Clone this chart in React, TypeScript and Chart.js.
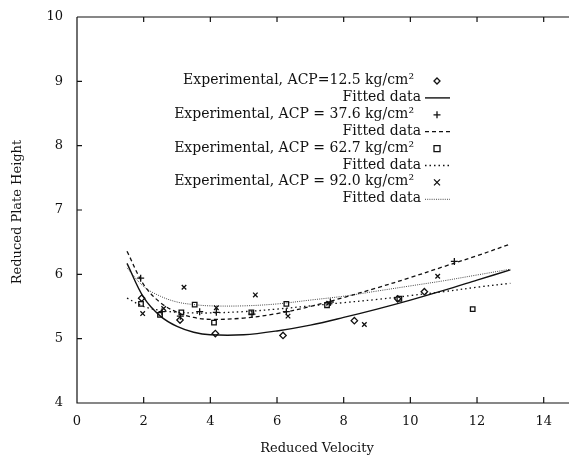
import React, { useEffect, useRef } from 'react';
import { Chart, registerables } from 'chart.js';

Chart.register(...registerables);

// ---- data ----
const xTicks = [0, 2, 4, 6, 8, 10, 12, 14];
const yTicks = [4, 5, 6, 7, 8, 9, 10];

const diamondX = [1.94, 3.09, 4.15, 6.18, 8.32, 9.62, 10.42];
const diamondY = [5.63, 5.29, 5.08, 5.05, 5.28, 5.62, 5.73];

const plusX = [1.91, 2.55, 3.1, 3.68, 4.18, 5.25, 6.28, 7.6, 11.32];
const plusY = [5.94, 5.42, 5.35, 5.42, 5.41, 5.38, 5.42, 5.57, 6.2];

const squareX = [1.92, 2.49, 3.13, 3.53, 4.11, 5.23, 6.28, 7.5, 9.67, 11.87];
const squareY = [5.54, 5.37, 5.41, 5.53, 5.25, 5.41, 5.54, 5.52, 5.62, 5.46];

const crossX = [1.97, 2.6, 3.21, 4.18, 5.35, 6.33, 7.55, 8.62, 10.82];
const crossY = [5.39, 5.47, 5.8, 5.48, 5.68, 5.35, 5.55, 5.22, 5.97];

const fitX = [1.5, 2, 2.5, 3, 3.5, 4, 5, 6, 7, 8, 9, 10, 11, 12, 13];
const fit125 = [6.17, 5.64, 5.35, 5.19, 5.1, 5.06, 5.06, 5.12, 5.21, 5.33, 5.46, 5.6, 5.75, 5.91, 6.07];
const fit376 = [6.36, 5.84, 5.56, 5.41, 5.33, 5.3, 5.32, 5.39, 5.5, 5.64, 5.79, 5.95, 6.12, 6.29, 6.47];
const fit627 = [5.63, 5.5, 5.44, 5.41, 5.4, 5.4, 5.42, 5.46, 5.51, 5.56, 5.61, 5.67, 5.73, 5.8, 5.86];
const fit920 = [6.1, 5.81, 5.66, 5.57, 5.53, 5.51, 5.51, 5.54, 5.6, 5.66, 5.74, 5.82, 5.9, 5.99, 6.08];

const legendLabels = [
  'Experimental, ACP=12.5 kg/cm²',
  'Fitted data',
  'Experimental, ACP = 37.6 kg/cm²',
  'Fitted data',
  'Experimental, ACP = 62.7 kg/cm²',
  'Fitted data',
  'Experimental, ACP = 92.0 kg/cm²',
  'Fitted data',
];

const xTitle = 'Reduced Velocity';
const yTitle = 'Reduced Plate Height';

// ---- styles ----
const INK = '#111';
const FONT = '"DejaVu Serif", serif';
const lineStyles = [
  { dash: [] as number[], width: 1.4, color: '#111' },
  { dash: [4, 3], width: 1.3, color: '#111' },
  { dash: [1.5, 3], width: 1.3, color: '#111' },
  { dash: [1, 1.2], width: 0.9, color: '#333' },
];
const markerStyles = ['rectRot', 'cross', 'rect', 'crossRot'];

function pts(xs: number[], ys: number[]) {
  return xs.map((x, i) => ({ x, y: ys[i] }));
}

function drawMarker(ctx: CanvasRenderingContext2D, kind: string, x: number, y: number) {
  ctx.save();
  ctx.setLineDash([]);
  ctx.strokeStyle = INK;
  ctx.lineWidth = 1.3;
  ctx.beginPath();
  if (kind === 'rectRot') {
    const r = 3;
    ctx.moveTo(x, y - r); ctx.lineTo(x + r, y); ctx.lineTo(x, y + r); ctx.lineTo(x - r, y); ctx.closePath();
  } else if (kind === 'cross') {
    const r = 3.5;
    ctx.moveTo(x - r, y); ctx.lineTo(x + r, y); ctx.moveTo(x, y - r); ctx.lineTo(x, y + r);
  } else if (kind === 'rect') {
    const r = 3;
    ctx.rect(x - r, y - r, 2 * r, 2 * r);
  } else {
    const r = 3;
    ctx.moveTo(x - r, y - r); ctx.lineTo(x + r, y + r); ctx.moveTo(x + r, y - r); ctx.lineTo(x - r, y + r);
  }
  ctx.stroke();
  ctx.restore();
}

const framePlugin = {
  id: 'frame',
  afterDraw(chart: any) {
    const { ctx, chartArea: a, scales } = chart;
    const xs = scales.x;
    const ys = scales.y;
    const edge = chart.width;
    ctx.save();
    ctx.setLineDash([]);
    ctx.strokeStyle = INK;
    ctx.lineWidth = 1.2;
    ctx.beginPath();
    ctx.moveTo(a.left, a.top);
    ctx.lineTo(edge, a.top);
    ctx.moveTo(a.left, a.top);
    ctx.lineTo(a.left, a.bottom);
    ctx.lineTo(edge, a.bottom);
    xTicks.forEach((v) => {
      const px = xs.getPixelForValue(v);
      ctx.moveTo(px, a.bottom);
      ctx.lineTo(px, a.bottom - 6);
      ctx.moveTo(px, a.top);
      ctx.lineTo(px, a.top + 5);
    });
    yTicks.forEach((v) => {
      const py = ys.getPixelForValue(v);
      ctx.moveTo(a.left, py);
      ctx.lineTo(a.left + 5, py);
    });
    ctx.stroke();

    // axis titles
    ctx.fillStyle = INK;
    ctx.font = `13px ${FONT}`;
    ctx.textAlign = 'center';
    ctx.textBaseline = 'middle';
    ctx.fillText(xTitle, 317, 449);
    ctx.save();
    ctx.translate(18, 212);
    ctx.rotate(-Math.PI / 2);
    ctx.fillText(yTitle, 0, 0);
    ctx.restore();

    // legend
    ctx.font = `14px ${FONT}`;
    ctx.textAlign = 'right';
    ctx.textBaseline = 'alphabetic';
    legendLabels.forEach((label, i) => {
      const base = 84 + i * 16.9;
      const series = Math.floor(i / 2);
      if (i % 2 === 0) {
        ctx.fillText(label, 414, base);
        drawMarker(ctx, markerStyles[series], 437, base - 3);
      } else {
        ctx.fillText(label, 421, base);
        const st = lineStyles[series];
        ctx.save();
        ctx.strokeStyle = st.color;
        ctx.lineWidth = st.width;
        ctx.setLineDash(st.dash);
        ctx.beginPath();
        ctx.moveTo(425, base - 3);
        ctx.lineTo(450, base - 3);
        ctx.stroke();
        ctx.restore();
      }
    });
    ctx.restore();
  },
};

export default function App() {
  const ref = useRef<HTMLCanvasElement | null>(null);

  useEffect(() => {
    if (!ref.current) return;
    const pointSets = [
      pts(diamondX, diamondY),
      pts(plusX, plusY),
      pts(squareX, squareY),
      pts(crossX, crossY),
    ];
    const fits = [fit125, fit376, fit627, fit920];
    const datasets: any[] = [];
    pointSets.forEach((d, i) => {
      datasets.push({
        label: legendLabels[i * 2],
        data: d,
        showLine: false,
        pointStyle: markerStyles[i],
        pointRadius: i === 1 ? 3.5 : 3.2,
        pointBorderWidth: 1.3,
        pointBorderColor: INK,
        pointBackgroundColor: 'rgba(0,0,0,0)',
        borderColor: INK,
      });
    });
    fits.forEach((f, i) => {
      const st = lineStyles[i];
      datasets.push({
        label: legendLabels[i * 2 + 1],
        data: pts(fitX, f),
        showLine: true,
        pointRadius: 0,
        borderColor: st.color,
        borderWidth: st.width,
        borderDash: st.dash,
        tension: 0.35,
        fill: false,
      });
    });

    const chart = new Chart(ref.current, {
      type: 'scatter',
      data: { datasets },
      options: {
        animation: false,
        responsive: false,
        events: [],
        layout: { padding: { top: 17, right: 0, left: 0, bottom: 0 } },
        plugins: { legend: { display: false }, tooltip: { enabled: false }, title: { display: false } },
        scales: {
          x: {
            type: 'linear',
            min: 0,
            max: 14.6,
            grid: { display: false },
            border: { display: false },
            afterBuildTicks: (s: any) => {
              s.ticks = xTicks.map((v) => ({ value: v }));
            },
            afterFit: (s: any) => {
              s.height = 55;
            },
            ticks: {
              color: INK,
              font: { family: FONT, size: 13 },
              padding: 3,
              maxRotation: 0,
            },
          },
          y: {
            type: 'linear',
            min: 4,
            max: 10,
            grid: { display: false },
            border: { display: false },
            afterBuildTicks: (s: any) => {
              s.ticks = yTicks.map((v) => ({ value: v }));
            },
            afterFit: (s: any) => {
              s.width = 77;
            },
            ticks: {
              color: INK,
              font: { family: FONT, size: 13 },
              padding: 6,
            },
          },
        },
      },
      plugins: [framePlugin],
    });
    return () => chart.destroy();
  }, []);

  return (
    <div style={{ position: 'fixed', left: 0, top: 0, width: 569, height: 458, background: '#fff' }}>
      <canvas ref={ref} width={569} height={458} style={{ display: 'block', width: 569, height: 458 }} />
    </div>
  );
}
